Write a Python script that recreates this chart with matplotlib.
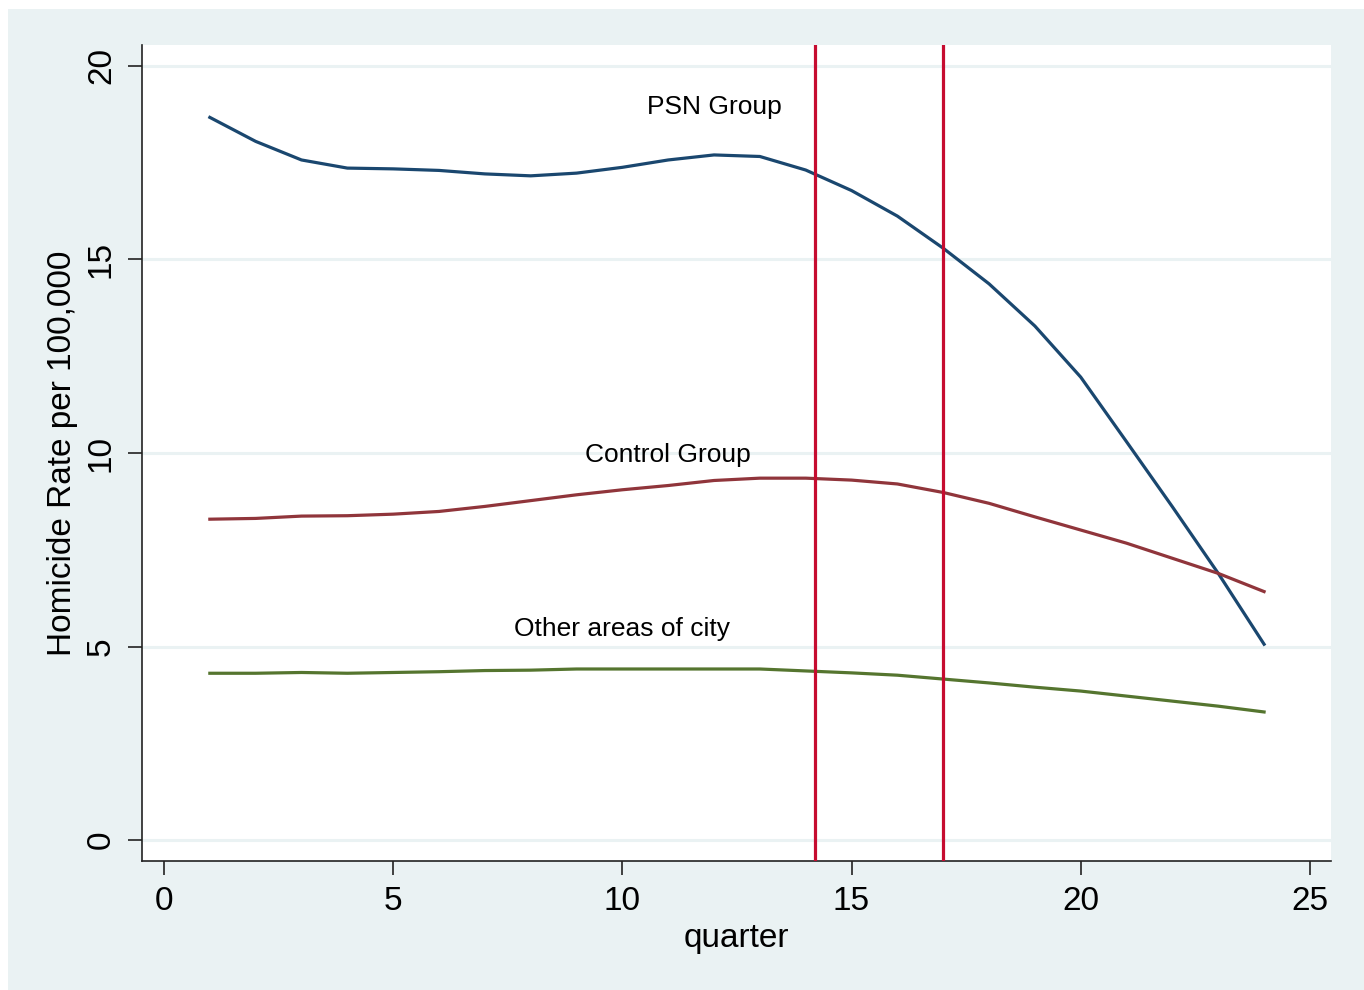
import matplotlib
matplotlib.use("Agg")
import matplotlib.pyplot as plt
from matplotlib.patches import Rectangle

plt.rcParams['font.family'] = ['Liberation Sans', 'DejaVu Sans']

quarter = list(range(1, 25))
psn = [18.67, 18.05, 17.57, 17.36, 17.34, 17.30, 17.21, 17.16, 17.23, 17.38,
       17.57, 17.70, 17.66, 17.31, 16.78, 16.12, 15.29, 14.37, 13.28, 11.96,
       10.29, 8.61, 6.89, 5.06]
control = [8.29, 8.31, 8.37, 8.38, 8.42, 8.49, 8.62, 8.77, 8.92, 9.05,
           9.16, 9.29, 9.35, 9.35, 9.30, 9.20, 8.98, 8.70, 8.35, 8.01,
           7.67, 7.28, 6.89, 6.42]
other = [4.31, 4.31, 4.33, 4.31, 4.33, 4.35, 4.38, 4.39, 4.42, 4.42,
         4.42, 4.42, 4.42, 4.37, 4.32, 4.26, 4.16, 4.06, 3.95, 3.85,
         3.72, 3.59, 3.46, 3.31]
vlines = [14.2, 17.0]
labels = [("PSN Group", 12, 18.95), ("Control Group", 11, 9.95), ("Other areas of city", 10, 5.45)]
xticks = [0, 5, 10, 15, 20, 25]
yticks = [0, 5, 10, 15, 20]

BG = '#eaf2f3'
W, H = 1364, 990
fig = plt.figure(figsize=(W / 100, H / 100), dpi=100, facecolor='white')
fig.patches.append(Rectangle((8 / W, 0), 1 - 8 / W, 1 - 9 / H, transform=fig.transFigure,
                             facecolor=BG, edgecolor='none', zorder=-10))

ax = fig.add_axes([142 / W, 1 - 861 / H, (1331 - 142) / W, (861 - 45) / H])
ax.set_zorder(5)
ax.set_facecolor('white')
ax.set_xlim(-0.48, 25.46)
ax.set_ylim(-0.54, 20.54)

for y in yticks:
    ax.axhline(y, color=BG, lw=2.2, zorder=1)

ax.plot(quarter, psn, color='#1a476f', lw=2.3, zorder=3)
ax.plot(quarter, control, color='#90353b', lw=2.3, zorder=3)
ax.plot(quarter, other, color='#55752f', lw=2.3, zorder=3)
for v in vlines:
    ax.axvline(v, color='#c60c30', lw=2.3, zorder=4)

for txt, x, y in labels:
    ax.text(x, y, txt, ha='center', va='center', fontsize=19, color='black', zorder=5)

ax.set_xticks(xticks)
ax.set_yticks(yticks)
ax.set_xticklabels([str(t) for t in xticks], fontsize=24)
ax.set_yticklabels([str(t) for t in yticks], fontsize=24, rotation=90, va='center')
ax.tick_params(axis='both', direction='out', length=10, width=1.2, color='#222222', pad=8)
ax.set_xlabel('quarter', fontsize=24, labelpad=4)
ax.set_ylabel('Homicide Rate per 100,000', fontsize=24, labelpad=6)

for s in ['top', 'right']:
    ax.spines[s].set_visible(False)
for s in ['left', 'bottom']:
    ax.spines[s].set_linewidth(1.2)
    ax.spines[s].set_color('#222222')

fig.savefig('out.png', dpi=100, facecolor='white')
